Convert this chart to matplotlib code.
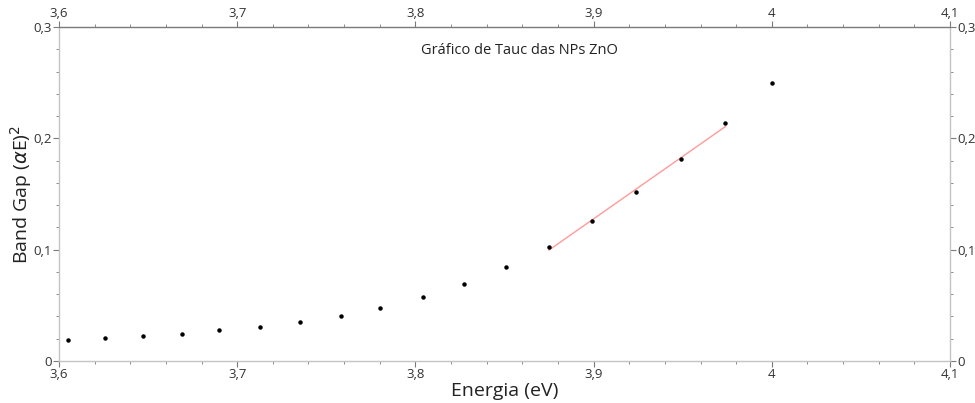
import numpy as np
import matplotlib.pyplot as plt
from matplotlib.ticker import MultipleLocator, FuncFormatter

plt.rcParams["font.family"] = ["Open Sans", "DejaVu Sans"]

# Energia (eV) e (alpha E)^2
energia = [3.605, 3.626, 3.647, 3.669, 3.690, 3.713, 3.735, 3.758, 3.780,
           3.804, 3.827, 3.851, 3.875, 3.899, 3.924, 3.949, 3.974, 4.000]
band_gap = [0.0189, 0.0204, 0.0222, 0.0243, 0.0276, 0.0308, 0.0348, 0.0404, 0.0476,
            0.0575, 0.0692, 0.0845, 0.1024, 0.1255, 0.1515, 0.1812, 0.2135, 0.2498]
# pontos usados no ajuste linear (região linear)
FIT_START, FIT_END = 12, 17

TITLE = "Gráfico de Tauc das NPs ZnO"
XLABEL = "Energia (eV)"
YLABEL = r"Band Gap ($\alpha$E)$^2$"

LIGHT = "#c4c4c4"
DARK = "#7a7a7a"


def comma_fmt(v, pos):
    s = f"{v:.1f}".rstrip("0").rstrip(".")
    return s.replace(".", ",")


fig = plt.figure(figsize=(9.75, 4.03), dpi=100)
ax = fig.add_axes([0.0605, 0.1042, 0.9139, 0.8288])

ax.plot(energia, band_gap, "o", color="black", ms=2.2, zorder=3)

xs = np.array(energia[FIT_START:FIT_END])
ys = np.array(band_gap[FIT_START:FIT_END])
a, b = np.polyfit(xs, ys, 1)
ax.plot([xs[0], xs[-1]], [a * xs[0] + b, a * xs[-1] + b], color="#ff9a9a", lw=1.0, zorder=2)

ax.set_xlim(3.6, 4.1)
ax.set_ylim(0, 0.3)
ax.xaxis.set_major_locator(MultipleLocator(0.1))
ax.xaxis.set_minor_locator(MultipleLocator(0.02))
ax.yaxis.set_major_locator(MultipleLocator(0.1))
ax.yaxis.set_minor_locator(MultipleLocator(0.02))
ax.xaxis.set_major_formatter(FuncFormatter(comma_fmt))
ax.yaxis.set_major_formatter(FuncFormatter(comma_fmt))

ax.tick_params(which="both", direction="out", top=True, right=True,
               labeltop=True, labelright=True, colors="#333333", labelsize=9.5, pad=1)
ax.tick_params(which="major", length=4, color=DARK)
ax.tick_params(which="minor", length=2.5, color=DARK)

for side, sp in ax.spines.items():
    sp.set_color(DARK if side == "top" else LIGHT)
    sp.set_linewidth(1.0)

ax.text(0.517, 0.931, TITLE, transform=ax.transAxes, ha="center", va="center",
        fontsize=10.5, color="#222222")
ax.set_xlabel(XLABEL, fontsize=14, color="#222222", labelpad=1)
ax.set_ylabel(YLABEL, fontsize=14, color="#222222", labelpad=0)

fig.savefig("out.png", dpi=100)
